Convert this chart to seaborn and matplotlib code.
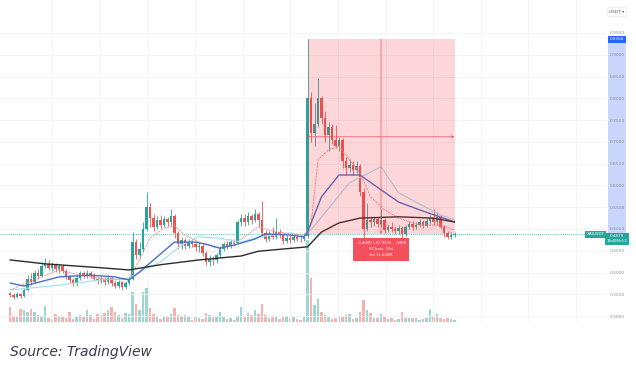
import matplotlib
matplotlib.use("Agg")
import matplotlib.pyplot as plt
import matplotlib.transforms as mtransforms
from matplotlib.patches import Rectangle
import numpy as np
import pandas as pd
import seaborn as sns

# candles (one bar every ~3.5 px)
opens = [.352, .348, .345, .350, .347, .360, .385, .378, .398, .392,
         .415, .420, .410, .418, .408, .414, .404, .390, .382, .375,
         .388, .398, .392, .400, .394, .385, .380, .386, .378, .388,
         .375, .370, .378, .366, .375, .385, .470, .440, .455, .500,
         .550, .525, .505, .520, .510, .522, .515, .530, .490, .465,
         .475, .462, .470, .465, .458, .462, .445, .425, .432, .428,
         .440, .455, .465, .460, .470, .468, .515, .525, .515, .530,
         .520, .535, .520, .490, .478, .488, .482, .494, .488, .472,
         .480, .475, .482, .478, .476, .484, .800, .720, .740, .800,
         .755, .715, .735, .705, .690, .705, .655, .640, .648, .635,
         .645, .585, .500, .520, .515, .522, .512, .520, .498, .505,
         .500, .495, .502, .488, .505, .512, .505, .510, .515, .508,
         .518, .525, .515, .528, .505, .490, .482, .486]
closes = [.348, .345, .350, .347, .360, .385, .378, .398, .392, .415,
          .420, .410, .418, .408, .414, .404, .390, .382, .375, .388,
          .398, .392, .400, .394, .385, .380, .386, .378, .388, .375,
          .370, .378, .366, .375, .385, .470, .440, .455, .500, .550,
          .525, .505, .520, .510, .522, .515, .530, .490, .465, .475,
          .462, .470, .465, .458, .462, .445, .425, .432, .428, .440,
          .455, .465, .460, .470, .468, .515, .525, .515, .530, .520,
          .535, .520, .490, .478, .488, .482, .494, .488, .472, .480,
          .475, .482, .478, .476, .484, .800, .720, .740, .800, .755,
          .715, .735, .705, .690, .705, .655, .640, .648, .635, .645,
          .585, .500, .520, .515, .522, .512, .520, .498, .505, .500,
          .495, .502, .488, .505, .512, .505, .510, .515, .508, .518,
          .525, .515, .528, .505, .490, .482, .486, .488]
highs = [.356, .352, .355, .354, .364, .395, .400, .405, .408, .425,
         .433, .428, .425, .422, .420, .418, .408, .395, .388, .392,
         .404, .404, .406, .404, .398, .390, .392, .390, .394, .392,
         .380, .383, .381, .380, .392, .494, .478, .470, .515, .585,
         .560, .535, .530, .532, .530, .528, .545, .535, .495, .482,
         .480, .478, .476, .470, .470, .466, .450, .440, .438, .445,
         .460, .470, .472, .476, .478, .520, .535, .535, .540, .535,
         .545, .540, .565, .498, .495, .505, .525, .500, .492, .486,
         .486, .490, .488, .484, .490, .9358, .815, .790, .846, .805,
         .770, .745, .740, .738, .712, .710, .665, .660, .655, .655,
         .650, .595, .560, .530, .530, .528, .545, .525, .512, .515,
         .508, .510, .506, .510, .518, .518, .516, .522, .520, .525,
         .532, .545, .540, .532, .510, .495, .492, .492]
lows = [.343, .340, .341, .342, .345, .357, .372, .375, .386, .389,
        .410, .405, .404, .402, .400, .398, .385, .376, .368, .370,
        .384, .387, .388, .388, .380, .374, .376, .372, .373, .368,
        .364, .365, .360, .362, .372, .382, .432, .430, .450, .495,
        .505, .495, .500, .502, .505, .508, .510, .480, .455, .455,
        .455, .456, .458, .450, .448, .438, .418, .415, .418, .422,
        .436, .450, .454, .456, .462, .465, .508, .508, .510, .512,
        .515, .505, .482, .470, .472, .476, .478, .480, .466, .468,
        .468, .470, .472, .470, .472, .480, .700, .690, .735, .740,
        .700, .680, .695, .685, .680, .640, .625, .630, .625, .628,
        .575, .430, .495, .505, .508, .505, .505, .490, .492, .492,
        .488, .488, .480, .484, .500, .498, .500, .505, .502, .504,
        .512, .510, .510, .500, .482, .476, .478, .482]
volumes = [15, 6, 5, 13, 12, 10, 13, 10, 7, 6,
           16, 4, 3, 8, 6, 5, 4, 10, 3, 6,
           7, 5, 12, 7, 3, 8, 7, 9, 12, 15,
           10, 7, 4, 9, 8, 30, 18, 12, 30, 34,
           14, 8, 6, 3, 6, 5, 8, 14, 7, 6,
           7, 5, 2, 5, 4, 3, 9, 7, 5, 6,
           10, 5, 3, 4, 2, 5, 15, 6, 9, 7,
           12, 8, 18, 7, 4, 5, 6, 3, 5, 6,
           4, 5, 3, 2, 5, 82, 44, 17, 23, 10,
           7, 5, 3, 4, 6, 5, 7, 8, 3, 4,
           10, 22, 12, 9, 4, 4, 8, 6, 3, 4,
           2, 3, 10, 4, 4, 4, 4, 2, 3, 4,
           13, 5, 8, 4, 3, 4, 3, 2]

# moving averages, read at a few bars each
ma_black_x = [0, 10, 26, 34, 37, 43, 54, 66, 71, 85, 89, 94, 100, 111, 121, 127]
ma_black = [.429, .420, .411, .406, .410, .418, .429, .438, .449, .459, .493, .514, .525, .528, .525, .516]
ma_blue_x = [0, 4, 14, 23, 30, 34, 37, 41, 47, 53, 57, 60, 64, 70, 73, 80, 84, 85, 89, 94, 100, 106, 111, 117, 127]
ma_blue = [.376, .369, .390, .394, .390, .383, .401, .429, .470, .470, .463, .456, .463, .477, .489, .486, .482,
           .493, .574, .624, .624, .590, .562, .544, .516]
ma_cyan_x = [0, 14, 26, 34, 38, 43, 49, 54, 60, 66, 71, 80, 84, 86, 97, 106, 111, 123, 127]
ma_cyan = [.360, .371, .383, .387, .406, .424, .463, .482, .479, .470, .482, .491, .486, .498, .606, .643, .583, .532, .521]
ma_red_x = [0, 9, 14, 20, 29, 34, 37, 40, 44, 47, 50, 54, 59, 63, 67, 71, 76, 80, 84,
            86, 88, 91, 94, 97, 100, 103, 107, 111, 117, 123, 127]
ma_red = [.360, .390, .406, .394, .383, .385, .429, .479, .502, .507, .486, .470, .456, .463, .482, .505, .493, .489, .486,
          .509, .659, .682, .689, .659, .629, .574, .544, .525, .509, .509, .498]

price_ticks = [0.30, 0.35, 0.40, 0.45, 0.50, 0.55, 0.60, 0.65, 0.70, 0.75, 0.80, 0.85, 0.90, 0.95]
last_price = 0.4879
range_high = 0.9358
range_low = 0.4878
range_start = 85
range_text = "-0.4480 (-47.93%) , -4480\n92 bars, 93d\nVol 11.646M"

sns.set_theme(style="white")
plt.rcParams['font.family'] = ['DejaVu Sans']

green = '#26a69a'
red = '#ef5350'

df = pd.DataFrame({'o': opens, 'h': highs, 'l': lows, 'c': closes, 'v': volumes})
df['i'] = np.arange(len(df))
colors = np.where(df.c >= df.o, green, red)

fig = plt.figure(figsize=(6.36, 3.69), dpi=100)
rect = [0, 47 / 369, 606 / 636, 322 / 369]
vax = fig.add_axes(rect)
ax = fig.add_axes(rect, sharex=vax)
ax.patch.set_alpha(0)

# volume
vax.bar(df.i, df.v, width=0.7, color=colors, alpha=0.45, linewidth=0)
vax.set_ylim(0, 322)
vax.axis('off')

# candles
ax.vlines(df.i, df.l, df.h, colors=colors, lw=0.6, zorder=3)
body = (df.c - df.o).abs().clip(lower=0.002)
ax.bar(df.i, body, bottom=np.minimum(df.o, df.c), width=0.6, color=colors, linewidth=0, zorder=4)

# moving averages
sns.lineplot(x=ma_cyan_x, y=ma_cyan, ax=ax, color='#a8e2ee', lw=0.9, zorder=5)
sns.lineplot(x=ma_red_x, y=ma_red, ax=ax, color='#f28a8a', lw=0.6, ls=(0, (3, 1)), zorder=5)
sns.lineplot(x=ma_blue_x, y=ma_blue, ax=ax, color='#4a6fc9', lw=1.0, zorder=5)
sns.lineplot(x=ma_black_x, y=ma_black, ax=ax, color='#2b2b2b', lw=1.0, zorder=5)

# last price line
ax.axhline(last_price, color=green, lw=0.6, ls=(0, (1, 1.5)), zorder=2)

# price range tool
range_end = len(df) - 1
ax.add_patch(Rectangle((range_start, range_low), range_end - range_start, range_high - range_low,
                       facecolor='#f23645', alpha=0.2, lw=0, zorder=6))
mid_y = (range_high + range_low) / 2
mid_x = (range_start + range_end) / 2
ax.annotate('', xy=(range_end, mid_y), xytext=(range_start, mid_y),
            arrowprops=dict(arrowstyle='->', color='#f23645', lw=0.6, alpha=0.7,
                            shrinkA=0, shrinkB=0, mutation_scale=4), zorder=7)
ax.annotate('', xy=(mid_x, range_low), xytext=(mid_x, range_high),
            arrowprops=dict(arrowstyle='->', color='#f23645', lw=0.6, alpha=0.7,
                            shrinkA=0, shrinkB=0, mutation_scale=4), zorder=7)
ax.annotate(range_text, xy=(mid_x, range_low), xytext=(0, -5), textcoords='offset points',
            ha='center', va='top', fontsize=2.7, color='white', linespacing=1.7,
            bbox=dict(boxstyle='square,pad=0.9', fc='#f2505c', ec='none'), zorder=8)

# axes styling
ax.set_xlim(-10 / 3.5, 596 / 3.5)
ax.set_ylim(0.2865, 1.0257)
ax.set_xticks(np.arange(12.1, 170, 13.6))
ax.set_yticks(price_ticks)
ax.set_yticklabels([f'{t:.4f}' for t in price_ticks])
ax.yaxis.tick_right()
ax.tick_params(axis='y', length=0, pad=2.5, labelsize=3.2, labelcolor='#8a8f9c')
ax.tick_params(axis='x', length=0, labelbottom=False)
ax.grid(True, color='#f0f2f6', lw=0.6)
for s in ax.spines.values():
    s.set_visible(False)

# price scale highlights (below the tick labels)
trans = mtransforms.blended_transform_factory(ax.transAxes, ax.transData)
ax.add_patch(Rectangle((1.003, range_low), 0.03, range_high - range_low, transform=trans,
                       facecolor='#c9d6fb', lw=0, clip_on=False, zorder=0.1))
ax.text(1.018, range_high, f'{range_high:.4f}', transform=trans, ha='center', va='center',
        fontsize=3.0, color='white', clip_on=False, zorder=9,
        bbox=dict(boxstyle='square,pad=0.35', fc='#2962ff', ec='none'))
ax.text(1.018, last_price, f'{last_price:.4f}\n16d06h13', transform=trans, ha='center', va='top',
        fontsize=3.0, color='white', clip_on=False, zorder=9, linespacing=1.3,
        bbox=dict(boxstyle='square,pad=0.35', fc=green, ec='none'))
ax.text(0.998, last_price, 'XAIUSDT', transform=trans, ha='right', va='center',
        fontsize=3.0, color='white', clip_on=False, zorder=9,
        bbox=dict(boxstyle='square,pad=0.35', fc=green, ec='none'))

fig.text(617 / 636, 1 - 12 / 369, 'USDT ▾', ha='center', va='center', fontsize=3.2, color='#555a66',
         bbox=dict(boxstyle='round,pad=0.5', fc='white', ec='#dcdfe6', lw=0.4))

fig.text(10 / 636, 1 - 352 / 369, 'Source: TradingView', style='italic', fontsize=10,
         color='#3b3b4f', va='center', ha='left')

fig.savefig('out.png', dpi=100)
